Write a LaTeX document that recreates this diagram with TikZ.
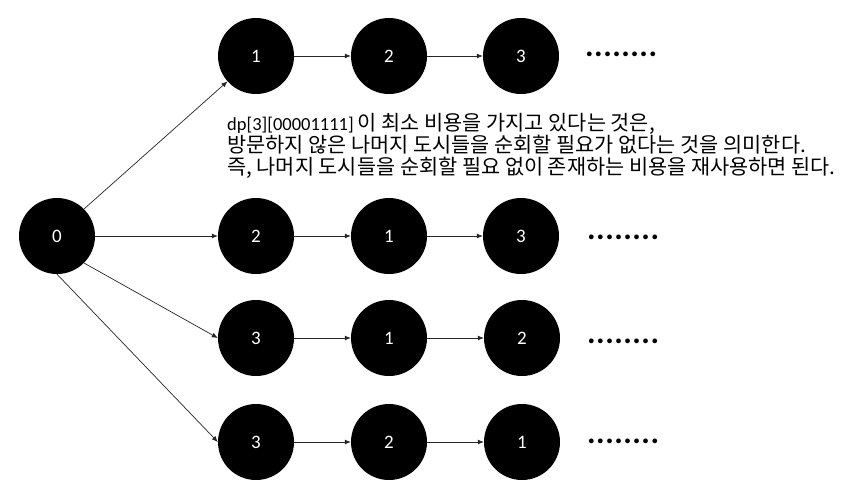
\documentclass[tikz,border=0pt]{standalone}
\usepackage{fontspec}
\setmainfont{Carlito}
\newfontfamily\kr{Noto Sans CJK KR}
\usetikzlibrary{arrows.meta}
\tikzset{
  city/.style={circle,fill=black,draw=none,minimum size=76pt,inner sep=0pt,text=white,font=\fontsize{19}{19}\selectfont},
  link/.style={draw=black!85,line width=0.7pt,-{Latex[length=6pt,width=5pt]}},
  more/.style={anchor=base west,inner sep=0pt,font=\fontsize{32}{32}\selectfont\bfseries},
  note/.style={anchor=base west,inner sep=0pt,font=\fontsize{18.5}{22}\selectfont},
  krtext/.style={font=\fontsize{20.8}{22}\selectfont\kr}
}
\newcommand\mydots{.\hspace{0.5pt}.\hspace{0.5pt}.\hspace{0.5pt}.\hspace{0.5pt}.\hspace{0.5pt}.\hspace{0.5pt}.\hspace{0.5pt}.}
\begin{document}
\begin{tikzpicture}[x=1pt,y=-1pt]
\useasboundingbox[fill=white] (0,0) rectangle (859,493);
\node[city] (n0) at (57,236) {0};
% row 1
\node[city] (a1) at (256,56) {1};
\node[city] (a2) at (389,56) {2};
\node[city] (a3) at (521,56) {3};
\node[more] (ad) at (585,56.5) {\mydots};
% row 2
\node[city] (b1) at (256,236) {2};
\node[city] (b2) at (389,236) {1};
\node[city] (b3) at (521,236) {3};
\node[more] (bd) at (587,239.5) {\mydots};
% row 3
\node[city] (c1) at (256,338) {3};
\node[city] (c2) at (389,338) {1};
\node[city] (c3) at (522,338) {2};
\node[more] (cd) at (587,343.5) {\mydots};
% row 4
\node[city] (d1) at (256,442) {3};
\node[city] (d2) at (389,442) {2};
\node[city] (d3) at (522,442) {1};
\node[more] (dd) at (587,443.5) {\mydots};
% text
\node[note] (t1) at (227,130) {dp[3][00001111] {\fontsize{20.8}{22}\selectfont\kr 이 최소 비용을 가지고 있다는 것은,}};
\node[note,krtext] (t2) at (227,152) {방문하지 않은 나머지 도시들을 순회할 필요가 없다는 것을 의미한다.};
\node[note,krtext] (t3) at (227,174) {즉, 나머지 도시들을 순회할 필요 없이 존재하는 비용을 재사용하면 된다.};
% connectors
\draw[link] (n0.45) -- (a1);
\draw[link] (n0.east) -- (b1.west);
\draw[link] (n0.-45) -- (c1.west);
\draw[link] (n0.south) -- (d1.west);
\foreach \r in {a,b,c,d}{
  \draw[link] (\r1.east) -- (\r2.west);
  \draw[link] (\r2.east) -- (\r3.west);
}
\end{tikzpicture}
\end{document}
